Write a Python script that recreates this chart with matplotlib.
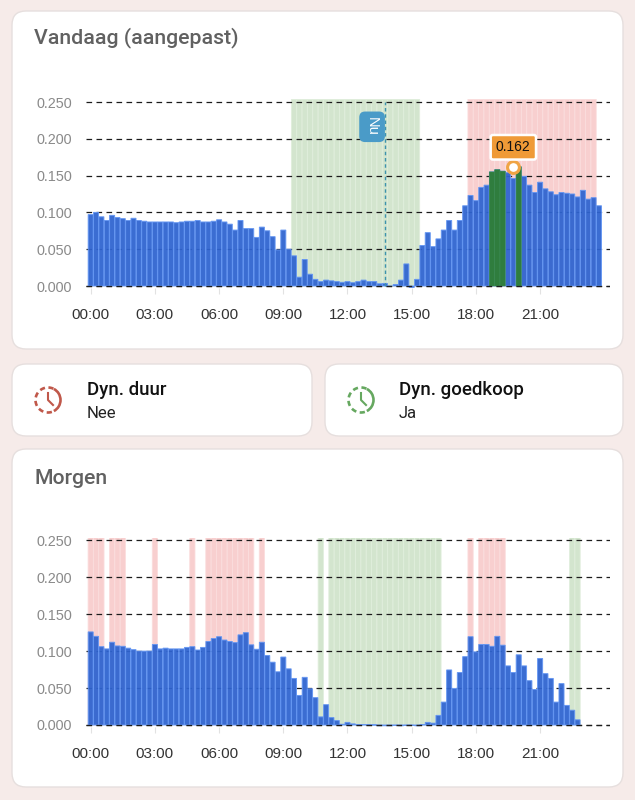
import numpy as np
import matplotlib
matplotlib.use("Agg")
import matplotlib.pyplot as plt
from matplotlib.patches import FancyBboxPatch, Arc

W, H = 635, 800

# waarden per kwartier
vandaag = [.097, .100, .094, .089, .096, .093, .0915, .089, .092, .089, .088, .087,
           .087, .087, .087, .087, .086, .087, .088, .088, .089, .087, .087, .088,
           .090, .087, .084, .076, .089, .078, .078, .066, .080, .075, .067, .049,
           .076, .050, .041, .012, .036, .016, .009, .006, .008, .007, .006, .005,
           .006, .0045, .006, .008, .006, .006, .003, .0035, 0, .002, .008, .030,
           -.002, .009, .055, .0725, .0535, .064, .076, .089, .076, .089, .109, .123,
           .116, .134, .137, .155, .158, .156, .154, .146, .162, .149, .137, .127,
           .141, .132, .128, .124, .127, .126, .125, .121, .130, .118, .120, .109]
morgen = [.126, .120, .106, .103, .112, .107, .1065, .104, .102, .100, .100, .100,
          .109, .103, .104, .103, .103, .103, .105, .106, .1015, .105, .113, .117,
          .1195, .115, .113, .1115, .122, .125, .1085, .1025, .112, .094, .085, .072,
          .092, .076, .063, .040, .0645, .049, .037, .011, .0275, .010, .006, .001,
          .0035, .0015, .0005, .0005, .0003, .0001, -.001, -.001, -.001, -.0005, -.001, -.0005,
          -.0005, -.001, .0005, .0035, .0025, .013, .031, .0745, .0495, .071, .0925, .1195,
          .099, .109, .109, .1065, .120, .108, .080, .071, .095, .080, .060, .048,
          .090, .0695, .063, .031, .056, .0265, .020, .007]

# kwartieren met goedkoop / duur tarief
vandaag_goedkoop = list(range(38, 62))
vandaag_duur = list(range(71, 95))
vandaag_donker = [75, 76, 77, 80]
morgen_goedkoop = [43] + list(range(45, 66)) + [90, 91]
morgen_duur = [0, 1, 2, 4, 5, 6, 12, 19] + list(range(22, 31)) + [32, 71] + list(range(73, 78))

y_ticks = [0, .05, .10, .15, .20, .25]
x_ticks = [0, 12, 24, 36, 48, 60, 72, 84]
x_labels = ["00:00", "03:00", "06:00", "09:00", "12:00", "15:00", "18:00", "21:00"]
band_top = .2537
nu_index = 55
punt_index = 79
punt_waarde = .162

plt.rcParams["font.family"] = ["Roboto", "DejaVu Sans"]
SANS = ["Liberation Sans", "DejaVu Sans"]

fig = plt.figure(figsize=(W / 100, H / 100), dpi=100, facecolor="#f6ebe9")
bg = fig.add_axes([0, 0, 1, 1])
bg.set_xlim(0, W)
bg.set_ylim(H, 0)
bg.axis("off")


def card(x0, y0, x1, y1):
    bg.add_patch(FancyBboxPatch((x0, y0), x1 - x0, y1 - y0, boxstyle="round,pad=0,rounding_size=14",
                                fc="white", ec="#e6dfde", lw=1))


def clock(cx, cy, color):
    # rechterkant doorlopend, linkerkant gestreept
    bg.add_patch(Arc((cx, cy), 25, 25, theta1=-62, theta2=62, color=color, lw=1.9))
    for start in [72, 112, 152, 192, 232, 272]:
        bg.add_patch(Arc((cx, cy), 25, 25, theta1=start, theta2=start + 24, color=color, lw=1.9))
    bg.plot([cx, cx, cx + 5], [cy - 7, cy, cy + 5], color=color, lw=1.5)


card(12, 11, 623, 349)
card(12, 364, 312, 436)
card(325, 364, 623, 436)
card(12, 449, 623, 787)

bg.text(34, 38, "Vandaag (aangepast)", fontsize=15.3, fontweight="medium", color="#616161", va="center")
bg.text(34, 478, "Morgen", fontsize=15.3, fontweight="medium", color="#616161", va="center")

clock(48, 400, "#c0584a")
clock(361, 400, "#66a860")
bg.text(87, 390, "Dyn. duur", fontsize=13.4, fontweight="medium", color="#111111", va="center")
bg.text(87, 414, "Nee", fontsize=12, color="#222222", va="center")
bg.text(399, 390, "Dyn. goedkoop", fontsize=13.4, fontweight="medium", color="#111111", va="center")
bg.text(399, 414, "Ja", fontsize=12, color="#222222", va="center")


def chart(y_zero, y_top, values, cheap, dear):
    per_unit = (y_zero - y_top) / .25
    low = -.003
    px_bottom = y_zero - low * per_unit
    px_top = y_zero - band_top * per_unit
    ax = fig.add_axes([86 / W, 1 - px_bottom / H, (610 - 86) / W, (px_bottom - px_top) / H])
    ax.patch.set_alpha(0)
    ax.set_xlim((86 - 90.7) / 5.35, (610 - 90.7) / 5.35)
    ax.set_ylim(low, band_top)
    for idx, fill, stripe in [(cheap, "#d3e5ce", "#e0eedc"), (dear, "#f8cfcf", "#fbdddd")]:
        bars = ax.bar(idx, [band_top] * len(idx), width=.98, color=fill, edgecolor=stripe, lw=.6, zorder=1)
        for b in bars:
            b.set_snap(False)
    bars = ax.bar(range(len(values)), values, width=.94, color="#2f64d0", edgecolor="#6496f2", lw=.7,
                  alpha=.94, zorder=2)
    for b in bars:
        b.set_snap(False)
    ax.set_yticks(y_ticks, [f"{v:.3f}" for v in y_ticks])
    ax.set_xticks(x_ticks, x_labels)
    ax.tick_params(axis="y", length=0, pad=10, labelsize=10.4, labelcolor="#8a8a8a")
    ax.tick_params(axis="x", length=4, width=.8, color="#e2e2e2", pad=10.5, labelsize=11, labelcolor="#333333")
    for label in ax.get_xticklabels() + ax.get_yticklabels():
        label.set_family(SANS)
    ax.set_axisbelow("line")
    ax.grid(axis="y", color="#1c1c1c", lw=.9, linestyle=(0, (4.5, 3.5)))
    ax.grid(axis="x", visible=False)
    # nullijn blijft boven de balken zichtbaar
    ax.axhline(0, color="#1c1c1c", lw=.9, linestyle=(0, (4.5, 3.5)), zorder=3)
    for s in ax.spines.values():
        s.set_visible(False)
    return ax


ax1 = chart(286, 102, vandaag, vandaag_goedkoop, vandaag_duur)
donker = ax1.bar(vandaag_donker, [vandaag[i] for i in vandaag_donker], width=.98, color="#2f7d3e",
                 edgecolor="#3a8a4a", lw=.4, zorder=2.2)
for b in donker:
    b.set_snap(False)
ax1.plot([nu_index, nu_index], [0, .25], color="#3d93ad", lw=1, linestyle=(0, (2.5, 2)), zorder=3)
ax1.text(nu_index - 1.1, .2163, "Nu", rotation=-90, ha="right", va="center", fontsize=10.5, color="white",
         family=SANS, zorder=4, bbox=dict(boxstyle="round,pad=0.4", fc="#4a9bc8", ec="none"))
ax1.plot([punt_index], [punt_waarde], "o", mfc="white", mec="#f0a445", ms=8.5, mew=2.2, zorder=4, clip_on=False)
ax1.text(punt_index, .1885, f"{punt_waarde:.3f}", ha="center", va="center", fontsize=10, color="#111111",
         family=SANS, zorder=5,
         bbox=dict(boxstyle="round,pad=0.38,rounding_size=0.15", fc="#ef9a37", ec="white", lw=1.8))

chart(725, 540.3, morgen, morgen_goedkoop, morgen_duur)

fig.savefig("out.png", dpi=100, facecolor=fig.get_facecolor())
